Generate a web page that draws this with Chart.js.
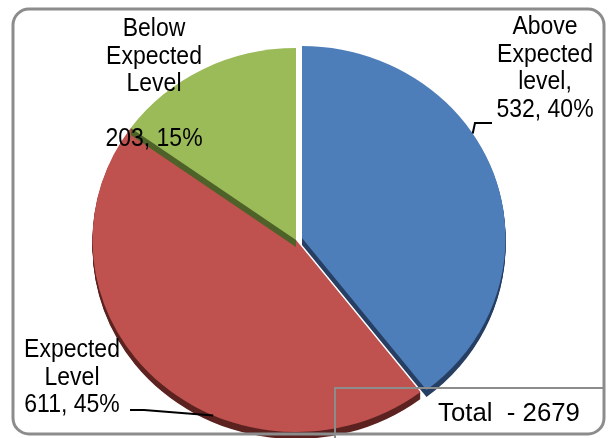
<!DOCTYPE html>
<html>
<head>
<meta charset="utf-8">
<script src="https://cdn.jsdelivr.net/npm/chart.js@4/dist/chart.umd.min.js"></script>
<style>
  html, body { margin: 0; padding: 0; background: #ffffff; }
  #wrap { width: 611px; height: 438px; position: relative; }
</style>
</head>
<body>
<div id="wrap"><canvas id="level-chart"></canvas></div>
<script>
var categories = ["Above Expected level", "Expected Level", "Below Expected Level"];
var counts = [532, 611, 203];
var percents = [40, 45, 15];
var labelLines = [["Above", "Expected", "level,"], ["Expected", "Level"], ["Below", "Expected", "Level", ""]];
var totalText = "Total  - 2679";

var sliceColors = ["#4E7EBA", "#BF514E", "#9BBB59"];
var sideColors = ["#263F63", "#5C2321", "#4E6229"];
var drawOrder = [1, 2, 0];
var depth = 7;
var stretchX = 1.06;
var fontCss = "23px 'Liberation Sans', Arial, sans-serif";

function arcCenter(arc) {
    var off = arc.options.offset || 0;
    var mid = (arc.startAngle + arc.endAngle) / 2;
    return { x: arc.x + Math.cos(mid) * off, y: arc.y + Math.sin(mid) * off };
}

function fillSlice(ctx, arc, color, dy) {
    var c = arcCenter(arc);
    ctx.beginPath();
    ctx.moveTo(c.x, c.y + dy);
    ctx.arc(c.x, c.y + dy, arc.outerRadius, arc.startAngle, arc.endAngle);
    ctx.closePath();
    ctx.fillStyle = color;
    ctx.fill();
}

// point on the outer rim of a slice, angle in degrees clockwise from 12 o'clock
function rimPoint(arc, deg) {
    var c = arcCenter(arc);
    var a = deg * Math.PI / 180;
    return {
        x: arc.x + (c.x - arc.x + Math.sin(a) * arc.outerRadius) * stretchX,
        y: c.y - Math.cos(a) * arc.outerRadius
    };
}

var pie3d = {
    id: "pie3d",
    beforeDatasetsDraw: function (chart) {
        var ctx = chart.ctx;
        var arcs = chart.getDatasetMeta(0).data;
        var cx = arcs[0].x;
        ctx.save();
        ctx.translate(cx, 0);
        ctx.scale(stretchX, 1);
        ctx.translate(-cx, 0);
        for (var k = 0; k < drawOrder.length; k++) {
            var i = drawOrder[k];
            for (var d = depth; d >= 1; d--) {
                fillSlice(ctx, arcs[i], sideColors[i], d);
            }
            fillSlice(ctx, arcs[i], sliceColors[i], 0);
        }
        ctx.restore();
        return false;
    },
    afterDraw: function (chart) {
        var ctx = chart.ctx;
        var arcs = chart.getDatasetMeta(0).data;
        ctx.save();

        // outer frame
        ctx.strokeStyle = "#8C8C8C";
        ctx.lineWidth = 3;
        ctx.beginPath();
        ctx.roundRect(13, 9, 591, 425, 16);
        ctx.stroke();

        // total box
        ctx.lineWidth = 2;
        ctx.beginPath();
        ctx.moveTo(335, 445);
        ctx.lineTo(335, 388);
        ctx.lineTo(604, 388);
        ctx.stroke();

        var spots = [
            { x: 545, y: 34 },
            { x: 72, y: 357 },
            { x: 154, y: 36 }
        ];
        ctx.fillStyle = "#000000";
        ctx.textAlign = "center";
        ctx.textBaseline = "alphabetic";
        ctx.font = fontCss;
        for (var i = 0; i < categories.length; i++) {
            var lines = labelLines[i].concat([counts[i] + ", " + percents[i] + "%"]);
            for (var j = 0; j < lines.length; j++) {
                var y = spots[i].y + j * 27.5;
                ctx.save();
                ctx.translate(spots[i].x, y);
                ctx.scale(1, 1.1);
                ctx.fillText(lines[j], 0, 0);
                ctx.restore();
            }
        }

        ctx.save();
        ctx.translate(509, 421);
        ctx.scale(1.12, 1.1);
        ctx.fillText(totalText, 0, 0);
        ctx.restore();

        // leader lines
        ctx.strokeStyle = "#000000";
        ctx.lineWidth = 2;
        var p = rimPoint(arcs[0], 57);
        ctx.beginPath();
        ctx.moveTo(492, 123);
        ctx.lineTo(475, 123);
        ctx.lineTo(p.x, p.y);
        ctx.stroke();

        p = rimPoint(arcs[1], 204);
        ctx.beginPath();
        ctx.moveTo(130, 410);
        ctx.lineTo(144, 410);
        ctx.lineTo(p.x, p.y);
        ctx.stroke();

        ctx.restore();
    }
};

var levelChart = new Chart("level-chart", {
    type: "pie",
    data: {
        labels: categories,
        datasets: [
            {
                data: counts,
                backgroundColor: sliceColors,
                borderWidth: 0,
                offset: [6, 0, 0]
            }
        ]
    },
    options: {
        responsive: true,
        maintainAspectRatio: false,
        animation: false,
        events: [],
        radius: 192,
        layout: {
            padding: { left: 0, right: 19, top: 42, bottom: 0 }
        },
        plugins: {
            legend: { display: false },
            tooltip: { enabled: false }
        }
    },
    plugins: [pie3d]
});
</script>
</body>
</html>
